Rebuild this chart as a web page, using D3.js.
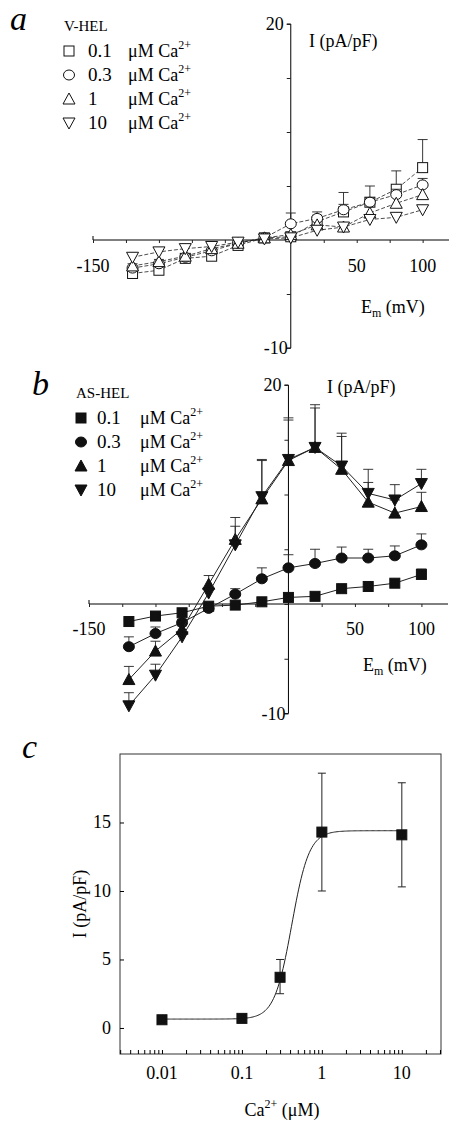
<!DOCTYPE html>
<html><head><meta charset="utf-8">
<script src="https://cdn.jsdelivr.net/npm/d3@7"></script>
<style>body{margin:0;background:#fff}text{font-family:"Liberation Serif","DejaVu Serif",serif}</style>
</head><body><div class="chart"></div>
<script>
// DATA ***********************************************************************
const voltages = [-120,-100,-80,-60,-40,-20,0,20,40,60,80,100];
const concLabels = ["0.1","0.3","1","10"];
// panel a, V-HEL
const aSq   = [-3.1,-2.8,-1.7,-1.5,-0.5,0.2,0.3,1.7,2.6,3.5,4.7,6.7];
const aCirc = [-2.6,-2.2,-1.6,-1.0,-0.3,0.2,1.5,2.0,2.8,3.5,4.2,5.1];
const aUp   = [-2.4,-2.0,-1.5,-0.8,-0.3,0.2,0.5,1.4,1.2,2.5,3.4,4.2];
const aDown = [-1.6,-1.1,-0.8,-0.6,-0.2,0.1,0.2,0.9,1.2,1.9,2.1,2.8];
const aSqErr   = [0.5,0.4,0.3,0.2,0.2,0.2,0.3,0.6,1.8,1.5,1.7,2.6];
const aCircErr = [0.4,0.4,0.3,0.2,0.2,0.2,1.0,0.6,0.5,0.4,0.5,0.6];
// panel b, AS-HEL
const bSq   = [-1.6,-1.1,-0.8,-0.2,-0.1,0.2,0.6,0.7,1.4,1.6,1.9,2.7];
const bCirc = [-3.9,-2.7,-1.7,-0.4,0.9,2.3,3.3,3.7,4.2,4.2,4.4,5.4];
const bUp   = [-6.9,-4.3,-2.3,1.8,5.9,9.6,13.1,14.3,12.3,9.3,8.3,8.9];
const bDown = [-9.3,-6.5,-3.0,1.0,5.4,9.8,13.2,14.3,12.6,10.1,9.5,11.0];
const bSqErr   = [0.1,0.2,0.2,0.1,0.1,0.1,0.1,0.1,0.2,0.2,0.3,0.5];
const bCircErr = [0.9,0.6,0.3,0.2,0.5,1.0,1.2,1.3,1.0,0.8,0.9,1.0];
const bUpErr   = [1.2,0.9,0.3,0.8,1.2,3.5,3.9,3.6,3.0,1.8,1.2,1.3];
const bDownErr = [1.2,1.0,0.4,0.3,2.5,3.4,3.6,3.9,3.0,2.2,1.4,1.3];
// panel c, dose response
const cConc = [0.01,0.1,0.3,1,10];
const cMean = [0.6,0.7,3.7,14.3,14.1];
const cLow  = [0.6,0.7,2.5,10.0,10.3];
const cHigh = [0.6,0.7,5.0,18.6,17.9];
const hill = {bottom:0.65, top:14.4, ec50:0.42, n:4}; // fitted curve parameters
const cTicksY = [0,5,10,15];
const cTicksX = [0.01,0.1,1,10];

const svg = d3.select(".chart").append("svg").attr("width",450).attr("height",1121);

function marker(g, type, x, y, filled) {
  const fill = filled ? "#111" : "#fff";
  const s = 5;
  if (type === "sq") g.append("rect").attr("x",x-s).attr("y",y-s).attr("width",2*s).attr("height",2*s)
    .attr("fill",fill).attr("stroke","#111").attr("stroke-width",1);
  else if (type === "circ") g.append("ellipse").attr("cx",x).attr("cy",y).attr("rx",s+0.5).attr("ry",s)
    .attr("fill",fill).attr("stroke","#111");
  else if (type === "up") g.append("path").attr("d",`M${x},${y-s-1}L${x+s+1},${y+s}L${x-s-1},${y+s}Z`)
    .attr("fill",fill).attr("stroke","#111");
  else g.append("path").attr("d",`M${x},${y+s+1}L${x+s+1},${y-s}L${x-s-1},${y-s}Z`)
    .attr("fill",fill).attr("stroke","#111");
}

function ivPanel(cfg) {
  const x = d3.scaleLinear().domain([-150,120]).range(cfg.xr);
  const y = d3.scaleLinear().domain([-10,20]).range(cfg.yr);
  const g = svg.append("g");
  g.append("g").attr("transform",`translate(0,${y(0)})`)
    .call(d3.axisBottom(x).tickValues([-150,-125,-100,-75,-50,-25,25,50,75,100]).tickSize(3).tickFormat(()=>""))
    .call(a=>a.select(".domain").attr("d",`M${x(-150)},-4V0H${x(120)}`));
  g.append("g").attr("transform",`translate(${x(0)},0)`)
    .call(d3.axisLeft(y).tickValues([-10,-5,0,5,10,15,20]).tickSize(4).tickFormat(()=>""))
    .call(a=>a.select(".domain").attr("d",`M-4,${y(20)}H0V${y(-10)}H-4`));
  g.selectAll(".tick line").attr("stroke","#222");
  const ty = y(0)+cfg.tickDy;
  [[-150,"-150"],[50,"50"],[100,"100"]].forEach(([v,t]) =>
    g.append("text").attr("x",x(v)).attr("y",ty).attr("text-anchor","middle").attr("font-size",18).text(t));
  g.append("text").attr("x",x(0)-7).attr("y",y(20)+6).attr("text-anchor","end").attr("font-size",18).text("20");
  g.append("text").attr("x",x(0)-3).attr("y",y(-10)+6).attr("text-anchor","end").attr("font-size",18).text("-10");
  g.append("text").attr("x",cfg.ilab[0]).attr("y",cfg.ilab[1]).attr("font-size",18).text("I (pA/pF)");
  const em = g.append("text").attr("x",cfg.elab[0]).attr("y",cfg.elab[1]).attr("font-size",18);
  em.append("tspan").text("E");
  em.append("tspan").attr("font-size",12).attr("dy",4).text("m");
  em.append("tspan").attr("dy",-4).text(" (mV)");
  const line = d3.line().x((d,i)=>x(voltages[i])).y(d=>y(d));
  cfg.series.forEach(s => {
    g.append("path").attr("d",line(s.vals)).attr("fill","none").attr("stroke","#222")
      .attr("stroke-width",cfg.filled?1:0.8).attr("stroke-dasharray",cfg.filled?null:"4,2");
    if (s.err) s.vals.forEach((v,i) => {
      const top = y(v+s.err[i]), px = x(voltages[i]);
      g.append("path").attr("d",`M${px},${y(v)}V${top}M${px-5},${top}H${px+5}`).attr("stroke","#222").attr("stroke-width",0.9);
    });
    s.vals.forEach((v,i)=>marker(g,s.type,x(voltages[i]),y(v),cfg.filled));
  });
  // letter + legend
  g.append("text").attr("x",cfg.letter[0]).attr("y",cfg.letter[1]).attr("font-size",34)
    .attr("font-style","italic").text(cfg.letterText);
  g.append("text").attr("x",cfg.leg[0]).attr("y",cfg.leg[1]).attr("font-size",15).text(cfg.name);
  cfg.series.forEach((s,i) => {
    const ly = cfg.leg[1] + 24*(i+1)+2;
    marker(g,s.type,cfg.leg[0]+5,ly-6,cfg.filled);
    g.append("text").attr("x",cfg.leg[0]+cfg.numDx).attr("y",ly).attr("font-size",19).text(concLabels[i]);
    const t = g.append("text").attr("x",cfg.leg[0]+cfg.muDx).attr("y",ly).attr("font-size",18).text("μM Ca");
    t.append("tspan").attr("dy",-8).attr("font-size",12).text("2+");
  });
}

ivPanel({xr:[93,449], yr:[348,24], tickDy:32, ilab:[309,47], elab:[361,313],
  letter:[10,30], letterText:"a", leg:[64,31], name:"V-HEL", filled:false, numDx:24, muDx:64,
  series:[{type:"sq",vals:aSq,err:aSqErr},{type:"circ",vals:aCirc,err:aCircErr},
          {type:"up",vals:aUp},{type:"down",vals:aDown}]});

ivPanel({xr:[89,448], yr:[713.5,385], tickDy:31, ilab:[327,393], elab:[363,671],
  letter:[32,395], letterText:"b", leg:[76,398], name:"AS-HEL", filled:true, numDx:21, muDx:64,
  series:[{type:"sq",vals:bSq,err:bSqErr},{type:"circ",vals:bCirc,err:bCircErr},
          {type:"up",vals:bUp,err:bUpErr},{type:"down",vals:bDown,err:bDownErr}]});

// PANEL C ********************************************************************
const cx = d3.scaleLog().domain([Math.pow(10,-2.525),Math.pow(10,1.49)]).range([120,441]);
const cy = d3.scaleLinear().domain([-1.9,20]).range([1054,754]);
const gc = svg.append("g");
gc.append("rect").attr("x",120).attr("y",754).attr("width",321).attr("height",300)
  .attr("fill","none").attr("stroke","#333").attr("stroke-width",1);
gc.append("g").attr("transform","translate(0,1054)")
  .call(d3.axisTop(cx).tickSize(4).tickFormat(()=>""))
  .call(a=>a.select(".domain").remove());
gc.append("g").attr("transform","translate(120,0)")
  .call(d3.axisRight(cy).tickValues(cTicksY).tickSize(4).tickFormat(()=>""))
  .call(a=>a.select(".domain").remove());
cTicksX.forEach(v=>gc.append("text").attr("x",cx(v)).attr("y",1079).attr("text-anchor","middle")
  .attr("font-size",18).text(v));
cTicksY.forEach(v=>gc.append("text").attr("x",111).attr("y",cy(v)+6).attr("text-anchor","end")
  .attr("font-size",18).text(v));
gc.append("text").attr("transform","translate(86,904) rotate(-90)").attr("text-anchor","middle")
  .attr("font-size",18).text("I (pA/pF)");
const xl = gc.append("text").attr("x",282).attr("y",1116).attr("text-anchor","middle").attr("font-size",18);
xl.append("tspan").text("Ca");
xl.append("tspan").attr("dy",-8).attr("font-size",12).text("2+");
xl.append("tspan").attr("dy",8).text(" (μM)");
const curveX = d3.range(0,201).map(i=>Math.pow(10,-2+i*3/200));
const hillY = c => hill.bottom + (hill.top-hill.bottom)*Math.pow(c,hill.n)/(Math.pow(c,hill.n)+Math.pow(hill.ec50,hill.n));
gc.append("path").attr("d",d3.line().x(d=>cx(d)).y(d=>cy(hillY(d)))(curveX))
  .attr("fill","none").attr("stroke","#222").attr("stroke-width",1);
cConc.forEach((c,i)=>{
  const px = cx(c);
  if (cHigh[i]>cLow[i]) gc.append("path")
    .attr("d",`M${px},${cy(cLow[i])}V${cy(cHigh[i])}M${px-4},${cy(cLow[i])}H${px+4}M${px-4},${cy(cHigh[i])}H${px+4}`)
    .attr("stroke","#222").attr("stroke-width",1);
  marker(gc,"sq",px,cy(cMean[i]),true);
});
gc.append("text").attr("x",22).attr("y",758).attr("font-size",34).attr("font-style","italic").text("c");
</script></body></html>
